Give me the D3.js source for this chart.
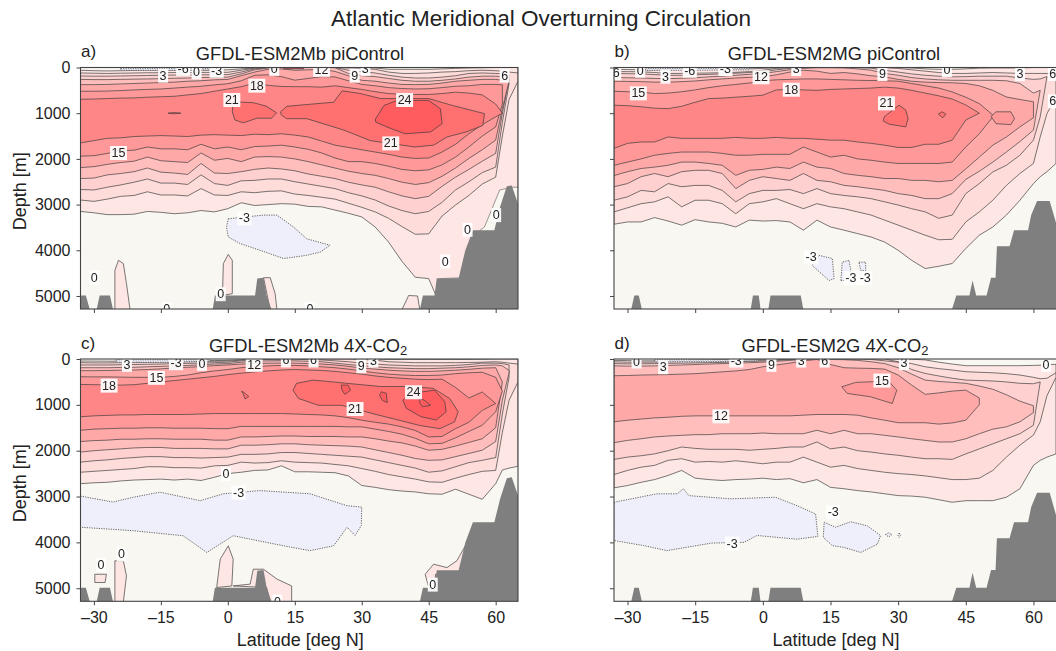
<!DOCTYPE html>
<html lang="en">
<head>
<meta charset="utf-8">
<title>Atlantic Meridional Overturning Circulation</title>
<script src="https://cdnjs.cloudflare.com/ajax/libs/d3/7.8.5/d3.min.js"></script>
<style>
html, body { margin: 0; padding: 0; background: #fff; }
svg { display: block; }
text { font-family: "Liberation Sans", Arial, sans-serif; fill: #222; }
</style>
</head>
<body>
<svg id="chart" width="1056" height="651"></svg>
<script>
// latitudes the isoline depths were read at
var lats = [-33,-30,-27,-24,-21,-18,-15,-12,-9,-6,-3,0,3,6,9,12,15,18,21,24,27,30,33,36,39,42,45,48,51,54,57,60,61.5,63,65];
var xTicks = [-30,-15,0,15,30,45,60];
var xTickLabels = ["\u201330","\u201315","0","15","30","45","60"];
var yTicks = [0,1000,2000,3000,4000,5000];

// band colours: value above level 0, 3, 6 ... 24
var levels = [0,3,6,9,12,15,18,21,24];
var bandColors = ["#fde6e3","#fddcda","#fed0cf","#ffbdbc","#ffa8a8","#ff9898","#ff8686","#ff6f6f","#ff5c60"];

// panel a: top and bottom depth of each level
var aTop = {
  0: [60,70,75,70,65,60,60,60,60,60,55,50,30,10,5,0,0,0,0,0,0,0,10,40,40,40,40,30,20,10,5,0,0,0,0],
  3: [120,125,130,125,120,115,115,110,110,108,106,105,60,15,5,0,0,0,0,5,10,20,40,100,130,130,120,100,90,70,60,70,80,100,120],
  6: [185,190,190,185,180,175,170,165,165,160,158,155,100,30,5,0,0,0,0,0,60,90,120,170,210,230,230,210,180,130,120,130,135,140,null],
  9: [260,265,265,260,255,250,245,235,230,220,215,210,140,50,10,0,0,0,0,5,130,180,200,240,280,300,300,280,250,210,190,190,200,260,null],
  12: [375,375,370,360,350,340,330,320,300,290,270,260,180,100,40,30,60,50,40,85,180,280,300,340,370,375,370,340,300,280,260,260,280,300,null],
  15: [520,520,515,505,490,480,470,450,430,410,380,355,290,170,160,200,277,240,200,207,290,370,400,440,460,470,465,440,410,400,370,370,380,null,null],
  18: [695,690,680,670,665,650,640,630,600,570,520,470,420,340,390,415,420,420,430,400,440,480,530,570,585,590,590,570,540,560,600,800,1000,null,null]
};
var aBottom = {
  0: [3150,3180,3220,3220,3210,3150,3170,3200,3180,3130,3160,3090,2960,3020,3000,2980,2990,3040,3050,3120,3190,3270,3490,3820,4240,4590,4620,5300,5300,5300,5300,5300,5300,5300,5300],
  3: [2900,2930,2880,2820,2800,2720,2790,2790,2810,2650,2790,2800,2720,2740,2710,2700,2770,2800,2840,2880,2970,3060,3160,3300,3480,3650,3640,3250,3010,2800,2550,2400,1500,700,300],
  6: [2670,2680,2620,2570,2510,2440,2530,2530,2560,2350,2540,2580,2480,2470,2440,2440,2500,2550,2600,2650,2740,2810,2900,3030,3130,3200,3150,2950,2680,2500,2300,2180,1200,350,null],
  9: [2430,2420,2350,2320,2280,2200,2290,2310,2340,2100,2310,2320,2280,2230,2200,2220,2260,2330,2380,2430,2510,2570,2620,2720,2810,2870,2820,2600,2400,2230,2050,1880,1000,260,null],
  12: [2190,2170,2120,2080,2050,1960,2040,2060,2080,1870,2030,1990,2060,1960,1950,1960,2000,2060,2130,2200,2270,2320,2360,2430,2510,2560,2520,2380,2200,1990,1800,1590,900,300,null],
  15: [1940,1930,1880,1820,1810,1740,1780,1780,1800,1680,1780,1740,1800,1730,1720,1700,1740,1790,1870,1980,2060,2060,2100,2160,2230,2260,2240,2130,1960,1740,1500,1300,800,null,null],
  18: [1650,1600,1550,1540,1510,1500,1490,1500,1510,1480,1470,1480,1490,1460,1470,1450,1480,1520,1610,1700,1750,1800,1850,1900,1960,1990,1980,1850,1680,1450,1250,1080,1000,null,null]
};
// closed pieces: [level, [lat, depth] ...]
var aBlobs = [
  [0, [[-25.3,5300],[-25.3,4440],[-24.5,4220],[-23.4,4290],[-22.7,4730],[-21.9,5300]]],
  [0, [[-1.2,4990],[-1,4290],[0.1,4090],[1,4220],[1,4950]]],
  [0, [[8,4600],[9.5,4600],[10.6,4950],[11,5300],[9.5,5300]]],
  [0, [[39,5300],[40.5,4990],[42.5,5000],[43,5300]]],
  [21, [[-13.4,1000],[-12,985],[-10.5,1000],[-12,1015]]],
  [21, [[1.2,750],[5.7,770],[8.6,845],[10.9,990],[9.8,1110],[6.5,1110],[3.5,1210],[1.6,1150],[1,970]]],
  [21, [[11.8,970],[13.2,850],[17.7,810],[23.7,760],[25.6,510],[29.7,570],[34.2,680],[38.7,680],[45,680],[50.3,830],[57.5,1010],[57.1,1270],[53.4,1410],[49.1,1520],[46.1,1700],[41.9,1740],[31.9,1600],[26,1370],[17.7,1120],[13.2,1120],[12,1040]]],
  [24, [[12.5,4],[17,4],[17,28],[12.5,28]]],
  [24, [[33.1,1120],[35,830],[38,720],[45,720],[47.6,900],[48,1230],[45.4,1410],[39.7,1450],[35.6,1300],[33.1,1190]]]
];
var aNegative = [
  [[-24,18],[-3,18],[-3,50],[-12,60],[-24,60]],
  [[0.1,3310],[8,3230],[11,3230],[14.7,3490],[17.7,3750],[22.9,3890],[20.7,4040],[17.7,4110],[12.5,4180],[7.2,4000],[2.7,3850],[0.1,3710],[-0.3,3490]]
];
var aCream = [[[47.6,4620],[52.5,4600],[52.8,4230],[54.5,3710],[57.5,3490],[60.9,2680],[63.8,2620],[65,2620],[65,5300],[47.6,5300]]];
var aLabels = [[-14.5,168,"3"],[-10,20,"-6"],[-7,95,"0"],[-2.5,60,"-3"],[10.4,20,"0"],[21,40,"12"],[30.8,20,"3"],[28.4,168,"9"],[62,168,"6"],[6.5,387,"18"],[0.9,700,"21"],[39.6,700,"24"],[36.5,1650,"21"],[-24.5,1860,"15"],[3.7,3290,"-3"],[-29.9,4585,"0"],[-1.6,4950,"0"],[48.7,4235,"0"],[53.7,3540,"0"],[60.1,3220,"0"],[-13.7,5280,"0"],[18.4,5280,"0"]];

// panel b
var bTop = {
  0: [40,45,50,55,50,45,45,40,40,35,30,20,5,0,0,0,0,0,0,0,0,0,10,30,40,40,30,15,10,10,10,0,0,0,0],
  3: [90,90,95,110,130,130,125,120,115,105,90,60,20,5,0,0,0,0,0,0,5,20,50,80,110,130,130,120,110,120,130,130,130,130,130],
  6: [130,135,140,155,170,170,160,150,140,125,110,95,50,20,5,0,0,0,5,15,60,100,140,170,190,205,200,190,190,190,230,260,250,200,null],
  9: [220,225,230,240,245,235,225,205,190,170,150,130,90,50,20,5,5,10,30,60,130,170,220,250,270,280,280,280,280,290,350,560,500,null,null],
  12: [300,305,310,320,320,310,295,270,250,230,215,205,160,100,60,80,130,110,140,180,205,260,300,320,330,335,350,400,500,645,700,750,null,null,null],
  15: [520,530,540,570,560,530,490,440,400,370,340,290,270,260,250,250,260,270,280,285,290,300,350,400,450,535,650,790,1040,null,null,null,null,null,null],
  18: [825,835,860,890,900,850,760,680,670,650,630,605,490,480,490,500,480,470,460,450,430,450,500,560,620,690,820,1000,null,null,null,null,null,null,null]
};
var bBottom = {
  0: [3430,3380,3380,3285,3360,3450,3330,3380,3410,3490,3340,3360,3350,3380,3560,3340,3490,3560,3635,3710,3820,4000,4220,4400,4350,4290,3960,3670,3490,3230,2905,2540,2390,2280,2100],
  3: [3160,3070,2980,2940,2830,3050,2905,2905,2980,3200,2980,2940,2870,2980,3090,2980,3050,3090,3160,3230,3340,3450,3560,3670,3770,3760,3380,3160,2905,2580,2320,2100,1520,1010,640],
  6: [2905,2830,2690,2720,2540,2610,2580,2580,2690,2940,2760,2690,2690,2670,2760,2650,2760,2800,2830,2870,2940,3010,3090,3160,3300,3230,2760,2540,2285,2140,1920,1590,1080,200,null],
  9: [2610,2540,2390,2320,2390,2280,2250,2250,2320,2650,2470,2390,2430,2470,2320,2470,2500,2580,2610,2650,2690,2760,2800,2870,2870,2760,2450,2270,2070,1850,1620,1370,500,null,null],
  12: [2365,2280,2210,2180,2140,2070,2070,2100,2140,2360,2250,2230,2180,2210,2070,2180,2210,2320,2360,2390,2430,2430,2470,2470,2500,2470,2220,1960,1700,1520,1300,1100,null,null,null],
  15: [2140,2070,2000,1920,1880,1850,1850,1850,1880,1920,1920,1900,1900,1900,1740,1850,1960,1920,2000,2030,2070,2100,2100,2100,2100,2070,1740,1450,1080,null,null,null,null,null,null],
  18: [1770,1660,1630,1630,1520,1550,1550,1550,1550,1530,1550,1550,1530,1550,1550,1570,1590,1590,1630,1660,1700,1750,1750,1680,1680,1590,1150,1000,null,null,null,null,null,null,null]
};
var bBlobs = [
  [15, [[50.6,1070],[51.7,970],[55,970],[55.8,1120],[55,1250],[51.7,1230]]],
  [21, [[26.9,1080],[26.7,1170],[28,1240],[31.7,1300],[32.2,1120],[31.7,930],[30.2,825]]],
  [21, [[38.9,1020],[39.7,970],[40.6,1020],[39.9,1100]]]
];
var bNegative = [
  [[-26,18],[-3,18],[-3,50],[-14,60],[-26,60]],
  [[12.4,4110],[15.4,4180],[15.8,4620],[14.7,4660],[10.9,4330]],
  [[17.3,4660],[17.6,4260],[19.1,4220],[19.5,4440],[18.4,4660]],
  [[21.3,4260],[22.8,4260],[22.8,4440],[21.7,4440]]
];
var bLabels = [[-32.5,117,"6"],[-27.2,58,"0"],[-21.6,190,"3"],[-16.2,58,"-6"],[-8.3,22,"-3"],[-0.4,204,"12"],[7.4,22,"3"],[26.5,131,"9"],[40.8,44,"0"],[57,131,"3"],[64.3,131,"6"],[64.3,730,"6"],[-27.6,555,"15"],[6.3,475,"18"],[27.4,774,"21"],[10.7,4146,"-3"],[19.5,4600,"-3"],[22.7,4600,"-3"]];

// panel c
var cTop = {
  0: [44,46,48,48,48,48,46,44,40,38,34,30,15,5,0,0,0,0,0,0,0,0,5,10,10,10,10,10,10,10,5,0,0,0,0],
  3: [80,85,85,80,78,75,70,65,60,55,50,45,25,5,0,0,0,0,0,0,0,10,25,60,70,80,80,80,80,75,70,60,70,90,110],
  6: [130,130,130,125,120,115,110,100,95,90,80,70,40,20,10,20,5,15,20,40,60,90,110,130,140,150,150,150,140,120,90,90,100,130,null],
  9: [190,190,190,185,180,170,160,150,140,125,110,100,70,50,40,40,40,50,60,90,120,146,170,190,200,210,210,200,190,170,140,130,150,250,null],
  12: [255,255,250,245,240,230,215,195,180,165,145,130,110,100,90,90,90,100,110,130,160,200,220,245,260,270,270,260,245,225,200,190,500,null,null],
  15: [387,390,390,395,400,400,400,380,350,300,260,230,190,170,150,140,140,150,170,190,220,260,300,330,350,360,360,350,320,300,290,400,700,null,null],
  18: [555,560,565,570,560,530,500,470,440,410,380,340,310,280,260,240,230,240,250,270,300,330,370,400,420,440,450,440,620,850,720,970,null,null,null]
};
var cBottom = {
  0: [2720,2700,2690,2660,2640,2630,2620,2640,2620,2650,2580,2500,2470,2430,2420,2330,2460,2460,2470,2480,2550,2760,2800,2850,2880,2900,2940,2950,2840,2950,3060,2720,2420,2380,2340],
  3: [2470,2450,2430,2410,2390,2350,2350,2370,2370,2380,2330,2320,2250,2270,2260,2220,2250,2260,2270,2300,2330,2390,2450,2520,2570,2620,2680,2690,2600,2520,2450,2430,1600,900,500],
  6: [2250,2220,2200,2170,2150,2130,2130,2150,2150,2160,2150,2140,2080,2080,2070,2040,2040,2060,2080,2100,2120,2140,2200,2260,2320,2380,2470,2440,2350,2260,2210,2150,1200,400,null],
  9: [2030,2000,1980,1960,1940,1930,1930,1950,1950,1950,1960,1960,1880,1880,1870,1850,1850,1870,1880,1890,1900,1920,1980,2040,2100,2170,2210,2200,2130,2060,1990,1800,900,300,null],
  12: [1800,1780,1770,1750,1750,1740,1740,1750,1750,1750,1770,1770,1700,1700,1690,1680,1680,1690,1690,1690,1700,1700,1740,1790,1830,1900,1990,1970,1900,1820,1740,1500,500,null,null],
  15: [1555,1530,1520,1510,1510,1500,1500,1510,1510,1510,1520,1520,1470,1470,1470,1470,1470,1470,1470,1470,1480,1480,1530,1580,1640,1730,1850,1840,1720,1580,1445,1150,700,null,null],
  18: [1260,1240,1230,1220,1220,1210,1210,1210,1210,1200,1190,1190,1190,1190,1190,1190,1200,1210,1220,1240,1280,1335,1380,1420,1480,1560,1700,1690,1520,1380,1120,970,null,null,null]
};
var cBlobs = [
  [0, [[-29.8,4695],[-29.8,4875],[-27.5,4875],[-27.2,4695]]],
  [0, [[-25.3,5300],[-25.3,4400],[-23.4,4400],[-22.7,4730],[-23.4,5300]]],
  [0, [[-2.5,4985],[-1.7,4365],[0.1,4075],[1.2,4365],[0.9,4950]]],
  [0, [[1.2,4950],[5,4910],[5.7,4585],[8,4585],[11,4800],[14.3,4950],[14.3,5300],[9.5,5300],[8.7,4985]]],
  [0, [[44.2,4695],[46.1,4475],[49.1,4550],[51.3,4400],[53.2,4075],[53.2,4660],[46.5,4695],[46.5,4875],[44.9,4950]]],
  [21, [[3.1,700],[3.9,750],[4.7,820],[3.9,870],[3.4,750]]],
  [21, [[14.6,680],[15.4,530],[19.1,460],[23.6,500],[26.6,530],[34.2,600],[40.2,600],[46,640],[49.7,860],[51.6,1150],[50.8,1370],[47.5,1520],[43,1450],[33.2,1210],[25.5,1010],[20.3,1010],[15.8,860]]],
  [24, [[39.2,900],[41,750],[46.3,680],[48.6,930],[48.9,1150],[46.7,1330],[43.3,1260],[40,1080]]],
  [24, [[25.4,570],[26.9,570],[27.5,680],[26.2,770],[25.6,680]]],
  [24, [[34.4,715],[35.5,750],[35.7,950],[34.6,900],[34,790]]],
  [24, [[43,860],[44,900],[45.4,1010],[43.6,1040],[43,960]]]
];
var cNegative = [
  [[-25,18],[-4,18],[-4,50],[-14,70],[-25,70]],
  [[-33,2990],[-25.7,3120],[-21.2,3015],[-15.2,2905],[-6.2,3090],[-1,2940],[7.2,2870],[18.4,2940],[26.7,3200],[30,3230],[29.9,3635],[28.5,3850],[26.7,3670],[23.7,4075],[18.4,4180],[12.5,4075],[1.2,3855],[-4.7,4220],[-10,3855],[-21.2,3745],[-33,3670]]
];
var cLabels = [[-22.6,117,"3"],[-11.6,80,"-3"],[-5.8,95,"0"],[5.9,117,"12"],[13,20,"6"],[19.2,20,"6"],[29.9,146,"9"],[32.6,22,"3"],[-16,400,"15"],[-26.6,570,"18"],[28.5,1080,"21"],[41.6,715,"24"],[-0.4,2500,"0"],[2.4,2905,"-3"],[-28.4,4490,"0"],[-23.8,4250,"0"],[45.9,4910,"0"],[11.1,5280,"0"]];

// panel d
var dTop = {
  0: [30,35,40,40,35,30,25,20,15,10,5,5,0,0,0,0,0,0,0,0,0,0,5,20,70,110,146,146,146,146,146,140,135,125,115],
  3: [60,70,70,68,60,55,50,45,40,35,30,25,15,5,0,0,0,0,0,0,0,60,100,170,210,240,277,290,300,320,350,400,430,420,300],
  6: [100,105,105,100,95,90,85,80,75,60,50,45,30,10,0,0,0,5,5,10,40,70,230,315,370,420,460,470,480,500,530,540,500,null,null],
  9: [150,155,155,150,140,130,120,110,100,90,80,70,50,30,10,5,10,15,30,60,100,190,330,460,490,510,530,590,660,780,920,1020,null,null,null],
  12: [365,360,350,345,340,330,320,300,280,260,230,170,130,90,40,10,120,190,200,205,220,350,570,770,740,700,680,850,null,null,null,null,null,null,null]
};
var dBottom = {
  0: [2810,2760,2690,2630,2540,2430,2600,2630,2650,2630,2620,2600,2630,2610,2700,2630,2800,2830,2870,2900,2940,2980,2990,3015,3070,3125,3090,3090,3090,3015,2830,2320,2210,2140,2070],
  3: [2520,2430,2360,2320,2210,2175,2250,2235,2250,2220,2250,2285,2250,2250,2140,2250,2360,2320,2390,2430,2470,2500,2520,2550,2590,2630,2630,2600,2430,2140,1880,1660,1370,800,400],
  6: [2190,2140,2110,2070,2000,1920,1950,1970,1970,1970,1990,1970,1950,1920,1920,1810,1960,1920,2000,2030,2070,2100,2140,2175,2175,2190,2070,1960,1850,1740,1630,1445,500,null,null],
  9: [1825,1775,1740,1700,1680,1665,1650,1650,1630,1630,1630,1615,1630,1630,1630,1555,1630,1555,1630,1630,1665,1700,1740,1775,1810,1810,1740,1630,1530,1480,1370,1170,null,null,null],
  12: [1370,1335,1310,1285,1270,1250,1240,1240,1240,1240,1240,1240,1240,1240,1225,1210,1210,1210,1225,1285,1335,1390,1390,1390,1420,1395,1335,1000,null,null,null,null,null,null,null]
};
var dBlobs = [
  [15, [[17.5,605],[20.6,510],[24.7,495],[28,495],[29.7,680],[28.7,970],[23.9,825],[18.7,750]]]
];
var dNegative = [
  [[-24,18],[-1,18],[-1,40],[-12,60],[-24,60]],
  [[-33,3125],[-23.5,2940],[-19,2940],[-17.6,2830],[-16.4,2980],[-7.2,3050],[2.8,3015],[7.6,3200],[11.7,3380],[12.2,3870],[7.6,3930],[-1.3,3850],[-4.2,4000],[-11.3,4015],[-21.3,4180],[-26.4,4070],[-33,3960]],
  [[13.6,3560],[16.1,3670],[19.5,3550],[23.2,3640],[26.1,3850],[25.4,4040],[21.7,4220],[18,4110],[15.4,4070],[13.4,3890]],
  [[27.2,3830],[27.9,3790],[28.6,3830],[27.9,3880]],
  [[30.2,3800],[30.6,3830],[30.2,3890],[29.9,3840]]
];
var dLabels = [[-28,44,"0"],[-22.1,168,"3"],[-5.9,22,"-3"],[1.9,117,"9"],[8.5,22,"3"],[13.7,22,"6"],[31.3,80,"3"],[62.8,117,"0"],[26.4,460,"15"],[-9.3,1240,"12"],[15.6,3330,"-3"],[-6.8,4015,"-3"]];

// sea floor as [lat, depth]
var floorMb = [
  [[-33,5300],[-33,4990],[-31.8,4990],[-30.9,5300]],
  [[-29.4,5300],[-28.7,4990],[-26.4,4990],[-25.7,5300]],
  [[-3.4,5300],[-2.9,4990],[6.1,4990],[6.6,4620],[8,4600],[8.7,4990],[9.8,5300]],
  [[43,5300],[43.7,4990],[46.3,4990],[46.8,4610],[51.7,4610],[53.2,4000],[54.9,3560],[59.7,3560],[61,3050],[62.5,2600],[63.6,2580],[65,2980],[65,5300]]
];
var floorG = [
  [[-29.2,5300],[-28.5,4990],[-27.5,4990],[-26.8,5300]],
  [[-2.7,5300],[-2.2,4990],[-0.9,4990],[-0.5,5300]],
  [[1.2,5300],[1.7,4990],[8.4,4990],[9,5300]],
  [[41.9,5300],[42.9,4990],[45.8,4990],[46.5,4660],[47.3,4990],[49.6,4990],[50.6,4600],[51.6,4600],[51.9,3910],[54.7,3910],[55.7,3560],[58.8,3560],[59.5,3230],[60.8,2920],[63.6,2920],[65,3400],[65,5300]]
];

var panels = [
  {id:"a", tag:"a)", title:"GFDL-ESM2Mb piControl", sub:"", cx:300, x0:80.5, x1:518, pad:0, y0:67.5, y1:309, top:aTop, bottom:aBottom, blobs:aBlobs, neg:aNegative, cream:aCream, labels:aLabels, floor:floorMb, yLabels:true, xLabels:false},
  {id:"b", tag:"b)", title:"GFDL-ESM2MG piControl", sub:"", cx:834, x0:614, x1:1056, pad:3, y0:67.5, y1:309, top:bTop, bottom:bBottom, blobs:bBlobs, neg:bNegative, cream:[], labels:bLabels, floor:floorG, yLabels:false, xLabels:false},
  {id:"c", tag:"c)", title:"GFDL-ESM2Mb 4X-CO", sub:"2", cx:308, x0:80.5, x1:518, pad:0, y0:359, y1:601.3, top:cTop, bottom:cBottom, blobs:cBlobs, neg:cNegative, cream:[], labels:cLabels, floor:floorMb, yLabels:true, xLabels:true},
  {id:"d", tag:"d)", title:"GFDL-ESM2G 4X-CO", sub:"2", cx:835, x0:614, x1:1056, pad:3, y0:359, y1:601.3, top:dTop, bottom:dBottom, blobs:dBlobs, neg:dNegative, cream:[], labels:dLabels, floor:floorG, yLabels:false, xLabels:true}
];

var svg = d3.select("#chart");
var cream = "#f8f7f1";
var lineColor = "#3a3a3a";

svg.append("defs").append("filter").attr("id", "soft").append("feGaussianBlur").attr("stdDeviation", 0.35);

svg.append("text").attr("x", 541).attr("y", 26).attr("text-anchor", "middle")
  .style("font-size", "22.5px").text("Atlantic Meridional Overturning Circulation");

panels.forEach(function(p) {
  var x = d3.scaleLinear().domain([-33, 65]).range([p.x0, p.x1]);
  var y = d3.scaleLinear().domain([0, 5285]).range([p.y0, p.y1]);

  var clip = svg.append("clipPath").attr("id", "clip-" + p.id);
  clip.append("rect").attr("x", p.x0).attr("y", p.y0).attr("width", p.x1 - p.x0).attr("height", p.y1 - p.y0);

  var g = svg.append("g").attr("clip-path", "url(#clip-" + p.id + ")").append("g").attr("filter", "url(#soft)");
  g.append("rect").attr("x", p.x0).attr("y", p.y0).attr("width", p.x1 - p.x0).attr("height", p.y1 - p.y0).attr("fill", cream);

  var closed = d3.line().x(function(d) { return x(d[0]); }).y(function(d) { return y(d[1]); }).curve(d3.curveLinearClosed);

  levels.forEach(function(level, i) {
    var tops = p.top[level], bottoms = p.bottom[level];
    if (tops) {
      var area = d3.area()
        .defined(function(d, j) { return tops[j] != null && bottoms[j] != null; })
        .x(function(d) { return x(d); })
        .y0(function(d, j) { return y(tops[j]); })
        .y1(function(d, j) { return y(bottoms[j]); });
      g.append("path").attr("d", area(lats)).attr("fill", bandColors[i])
        .attr("stroke", lineColor).attr("stroke-width", 0.85).attr("stroke-opacity", 0.8).attr("stroke-linejoin", "round");
    }
    p.blobs.filter(function(b) { return b[0] === level; }).forEach(function(b) {
      g.append("path").attr("d", closed(b[1])).attr("fill", bandColors[i])
        .attr("stroke", lineColor).attr("stroke-width", 0.85).attr("stroke-opacity", 0.8);
    });
  });

  p.cream.forEach(function(c) {
    g.append("path").attr("d", closed(c)).attr("fill", cream).attr("stroke", lineColor).attr("stroke-width", 0.7).attr("stroke-opacity", 0.7);
  });
  p.neg.forEach(function(n) {
    g.append("path").attr("d", closed(n)).attr("fill", "#eeeffa")
      .attr("stroke", "#555").attr("stroke-width", 0.9).attr("stroke-dasharray", "1.2,1.2");
  });

  // sea floor sits over the bands
  p.floor.forEach(function(f) {
    g.append("path").attr("d", closed(f)).attr("fill", "#7f7f7f");
  });

  // contour labels, white boxes knock the line out
  p.labels.forEach(function(l) {
    var t = g.append("text").attr("x", x(l[0])).attr("y", y(l[1]) + 4.5).attr("text-anchor", "middle")
      .style("font-size", "12.5px").text(l[2]);
    var b = t.node().getBBox();
    g.insert("rect", "text").attr("x", b.x - 1.5).attr("y", b.y).attr("width", b.width + 3).attr("height", b.height).attr("fill", "#fff").attr("fill-opacity", 0.92);
    t.raise();
  });

  // frame and axes
  svg.append("rect").attr("x", p.x0).attr("y", p.y0).attr("width", p.x1 - p.x0 + p.pad).attr("height", p.y1 - p.y0)
    .attr("fill", "none").attr("stroke", "#444").attr("stroke-width", 1.1);

  var yAxis = d3.axisLeft(y).tickValues(yTicks).tickSizeOuter(0).tickSize(4).tickPadding(6)
    .tickFormat(p.yLabels ? d3.format("d") : "");
  var xAxis = d3.axisBottom(x).tickValues(xTicks).tickSizeOuter(0).tickSize(4).tickPadding(6)
    .tickFormat(p.xLabels ? function(d, i) { return xTickLabels[i]; } : "");

  var ya = svg.append("g").attr("transform", "translate(" + p.x0 + ",0)").call(yAxis);
  var xa = svg.append("g").attr("transform", "translate(0," + p.y1 + ")").call(xAxis);
  [ya, xa].forEach(function(a) {
    a.select(".domain").remove();
    a.selectAll("line").attr("stroke", "#444");
    a.selectAll("text").style("font-size", "16px").style("font-family", "'Liberation Sans', Arial, sans-serif").attr("fill", "#222");
  });

  svg.append("text").attr("x", p.x0 + 0.5).attr("y", p.y0 - 10.5).style("font-size", "17px").text(p.tag);

  var title = svg.append("text").attr("x", p.cx).attr("y", p.y0 - 7.5).attr("text-anchor", "middle").style("font-size", "18.3px").text(p.title);
  if (p.sub) {
    title.append("tspan").attr("dy", 3.5).style("font-size", "13px").text(p.sub);
  }

  if (p.yLabels) {
    var cy = (p.y0 + p.y1) / 2 + 3;
    svg.append("text").attr("transform", "translate(26," + cy + ") rotate(-90)").attr("text-anchor", "middle").style("font-size", "18px").text("Depth [m]");
  }
  if (p.xLabels) {
    svg.append("text").attr("x", (p.x0 + p.x1) / 2 + 1).attr("y", 646).attr("text-anchor", "middle").style("font-size", "18px").text("Latitude [deg N]");
  }
});
</script>
</body>
</html>
